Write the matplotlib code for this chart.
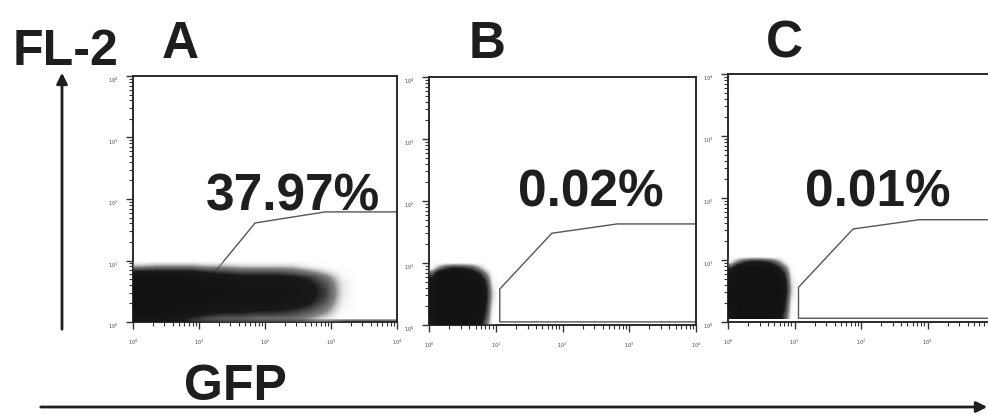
import numpy as np
import matplotlib
matplotlib.use("Agg")
import matplotlib.pyplot as plt
from matplotlib.colors import LinearSegmentedColormap
from matplotlib.patches import FancyArrowPatch

plt.rcParams['font.family'] = ['Liberation Sans', 'DejaVu Sans']

# ---------------- data ----------------
panels = ["A", "B", "C"]
percent_labels = ["37.97%", "0.02%", "0.01%"]
percent_pos = [(2.42, 2.03), (2.43, 2.13), (2.25, 2.08)]
decade_labels = ["$10^0$", "$10^1$", "$10^2$", "$10^3$", "$10^4$"]

# gate polygons (log10 GFP, log10 FL-2)
gate_A_x = [4.0, 1.0, 1.0, 1.85, 2.91, 4.0]
gate_A_y = [0.03, 0.03, 0.50, 1.61, 1.79, 1.79]
gate_B_x = [4.0, 1.06, 1.06, 1.84, 2.82, 4.0]
gate_B_y = [0.05, 0.05, 0.58, 1.48, 1.63, 1.63]
gate_C_x = [4.0, 1.06, 1.06, 1.88, 2.88, 4.0]
gate_C_y = [0.06, 0.06, 0.56, 1.50, 1.65, 1.65]

# event density grids (rows: FL-2 high -> low, cols: GFP low -> high)
density_A = np.array([
    [0.00, 0.00, 0.00, 0.00, 0.00, 0.00, 0.00, 0.00, 0.00, 0.00, 0.00, 0.00, 0.00, 0.00],
    [0.25, 0.30, 0.30, 0.30, 0.25, 0.25, 0.20, 0.20, 0.20, 0.20, 0.10, 0.05, 0.00, 0.00],
    [0.70, 0.70, 0.70, 0.70, 0.60, 0.55, 0.50, 0.50, 0.50, 0.45, 0.35, 0.20, 0.05, 0.00],
    [0.95, 0.95, 0.95, 0.90, 0.85, 0.80, 0.75, 0.75, 0.75, 0.70, 0.60, 0.40, 0.10, 0.00],
    [1.00, 1.00, 1.00, 1.00, 0.95, 0.90, 0.85, 0.85, 0.85, 0.80, 0.70, 0.50, 0.15, 0.00],
    [1.00, 1.00, 1.00, 1.00, 0.95, 0.95, 0.90, 0.90, 0.90, 0.85, 0.75, 0.55, 0.15, 0.00],
    [1.00, 1.00, 1.00, 1.00, 0.95, 0.95, 0.90, 0.90, 0.90, 0.85, 0.75, 0.55, 0.15, 0.00],
    [1.00, 1.00, 1.00, 1.00, 0.95, 0.90, 0.85, 0.85, 0.85, 0.80, 0.70, 0.50, 0.12, 0.00],
    [1.00, 1.00, 1.00, 0.95, 0.85, 0.80, 0.80, 0.75, 0.75, 0.70, 0.60, 0.40, 0.10, 0.00],
    [0.95, 0.95, 0.90, 0.80, 0.70, 0.65, 0.65, 0.60, 0.60, 0.55, 0.45, 0.30, 0.05, 0.00],
    [0.80, 0.80, 0.75, 0.60, 0.50, 0.45, 0.45, 0.40, 0.40, 0.40, 0.30, 0.15, 0.02, 0.00],
])
extent_A = (0.0, 3.55, 0.0, 1.05)

density_B = np.array([
    [0.00, 0.00, 0.00, 0.00, 0.00, 0.00, 0.00, 0.00, 0.00, 0.00, 0.00],
    [0.10, 0.35, 0.55, 0.65, 0.65, 0.60, 0.50, 0.30, 0.10, 0.00, 0.00],
    [0.50, 0.90, 1.00, 1.00, 1.00, 0.95, 0.85, 0.65, 0.35, 0.05, 0.00],
    [0.80, 1.00, 1.00, 1.00, 1.00, 1.00, 1.00, 0.90, 0.55, 0.10, 0.00],
    [0.85, 1.00, 1.00, 1.00, 1.00, 1.00, 1.00, 0.95, 0.65, 0.15, 0.00],
    [0.90, 1.00, 1.00, 1.00, 1.00, 1.00, 1.00, 1.00, 0.70, 0.20, 0.00],
    [0.90, 1.00, 1.00, 1.00, 1.00, 1.00, 1.00, 1.00, 0.70, 0.20, 0.00],
    [0.90, 1.00, 1.00, 1.00, 1.00, 1.00, 1.00, 0.95, 0.65, 0.15, 0.00],
    [0.90, 1.00, 1.00, 1.00, 1.00, 1.00, 1.00, 0.95, 0.60, 0.10, 0.00],
    [0.85, 1.00, 1.00, 1.00, 1.00, 1.00, 1.00, 0.90, 0.55, 0.08, 0.00],
    [0.70, 0.95, 1.00, 1.00, 1.00, 1.00, 0.90, 0.80, 0.45, 0.05, 0.00],
])
extent_B = (0.0, 1.1, 0.0, 1.05)

density_C = np.array([
    [0.00, 0.00, 0.00, 0.00, 0.00, 0.00, 0.00, 0.00, 0.00, 0.00, 0.00],
    [0.15, 0.40, 0.60, 0.70, 0.70, 0.65, 0.55, 0.35, 0.12, 0.00, 0.00],
    [0.60, 0.95, 1.00, 1.00, 1.00, 1.00, 0.90, 0.70, 0.40, 0.05, 0.00],
    [0.85, 1.00, 1.00, 1.00, 1.00, 1.00, 1.00, 0.90, 0.60, 0.10, 0.00],
    [0.90, 1.00, 1.00, 1.00, 1.00, 1.00, 1.00, 0.95, 0.70, 0.15, 0.00],
    [0.95, 1.00, 1.00, 1.00, 1.00, 1.00, 1.00, 1.00, 0.75, 0.20, 0.00],
    [0.95, 1.00, 1.00, 1.00, 1.00, 1.00, 1.00, 1.00, 0.75, 0.20, 0.00],
    [0.95, 1.00, 1.00, 1.00, 1.00, 1.00, 1.00, 1.00, 0.70, 0.15, 0.00],
    [0.95, 1.00, 1.00, 1.00, 1.00, 1.00, 1.00, 0.95, 0.65, 0.10, 0.00],
    [0.90, 1.00, 1.00, 1.00, 1.00, 1.00, 1.00, 0.95, 0.60, 0.08, 0.00],
    [0.80, 1.00, 1.00, 1.00, 1.00, 1.00, 0.95, 0.85, 0.50, 0.05, 0.00],
])
extent_C = (0.0, 1.1, 0.05, 1.1)

gates = [(gate_A_x, gate_A_y), (gate_B_x, gate_B_y), (gate_C_x, gate_C_y)]
densities = [(density_A, extent_A), (density_B, extent_B), (density_C, extent_C)]

# ---------------- figure ----------------
W, H = 988, 415
fig = plt.figure(figsize=(W / 100, H / 100), dpi=100)
fig.patch.set_facecolor("white")

def fx(px):
    return px / W

def fy(py):
    return 1 - py / H

# axes boxes in pixels: left, top, right, bottom
boxes = [(133, 76, 397, 322), (429, 77, 696, 325), (728, 74, 994, 322)]
letter_x = [180, 487, 784]

cmap = LinearSegmentedColormap.from_list(
    "ev", [(1, 1, 1, 0), (0.35, 0.35, 0.35, 0.75), (0.1, 0.1, 0.1, 1),
           (0.07, 0.07, 0.07, 1)])

major = np.arange(0, 5)
minor = np.concatenate([d + np.log10(np.arange(2, 10)) for d in range(4)])

for i in range(3):
    l, t, r, b = boxes[i]
    ax = fig.add_axes([fx(l), fy(b), (r - l) / W, (b - t) / H])
    ax.set_xlim(0, 4)
    ax.set_ylim(0, 4)
    for s in ax.spines.values():
        s.set_linewidth(1.4)
        s.set_color("#2a2a2a")
    ax.set_xticks(major)
    ax.set_yticks(major)
    ax.set_xticks(minor, minor=True)
    ax.set_yticks(minor, minor=True)
    xl = list(decade_labels)
    if i == 2:
        xl[-1] = ""
    ax.set_xticklabels(xl, fontsize=3.5, color="#444")
    ax.set_yticklabels(decade_labels, fontsize=3.5, color="#444",
                       va="top")
    ax.tick_params(which="major", direction="out", length=5, width=1.0,
                   color="#333", pad=6)
    ax.tick_params(which="minor", direction="out", length=3, width=0.8,
                   color="#333")

    gx, gy = gates[i]
    ax.plot(gx, gy, color="#555555", lw=1.0, zorder=2, clip_on=False)

    dens, ext = densities[i]
    ax.imshow(dens, extent=ext, cmap=cmap, vmin=0, vmax=1,
              interpolation="bilinear", aspect="auto", zorder=3)

    px, py = percent_pos[i]
    ax.text(px, py, percent_labels[i], fontsize=37, fontweight="bold",
            color="#1e1e1e", ha="center", va="center", zorder=4)

    fig.text(fx(letter_x[i]), fy(58), panels[i], fontsize=37,
             fontweight="bold", color="#1e1e1e", ha="center", va="baseline")

# axis titles
fig.text(fx(66), fy(65), "FL-2", fontsize=36, fontweight="bold",
         color="#1e1e1e", ha="center", va="baseline")
fig.text(fx(235), fy(400), "GFP", fontsize=36, fontweight="bold",
         color="#1e1e1e", ha="center", va="baseline")

# arrows
fig.add_artist(FancyArrowPatch((fx(62), fy(332)), (fx(62), fy(70)),
                               transform=fig.transFigure, arrowstyle="-|>",
                               mutation_scale=16, lw=2, color="#1e1e1e"))
fig.add_artist(FancyArrowPatch((fx(38), fy(407)), (fx(990), fy(407)),
                               transform=fig.transFigure, arrowstyle="-|>",
                               mutation_scale=16, lw=2, color="#1e1e1e"))

fig.savefig("out.png", dpi=100, facecolor="white")
